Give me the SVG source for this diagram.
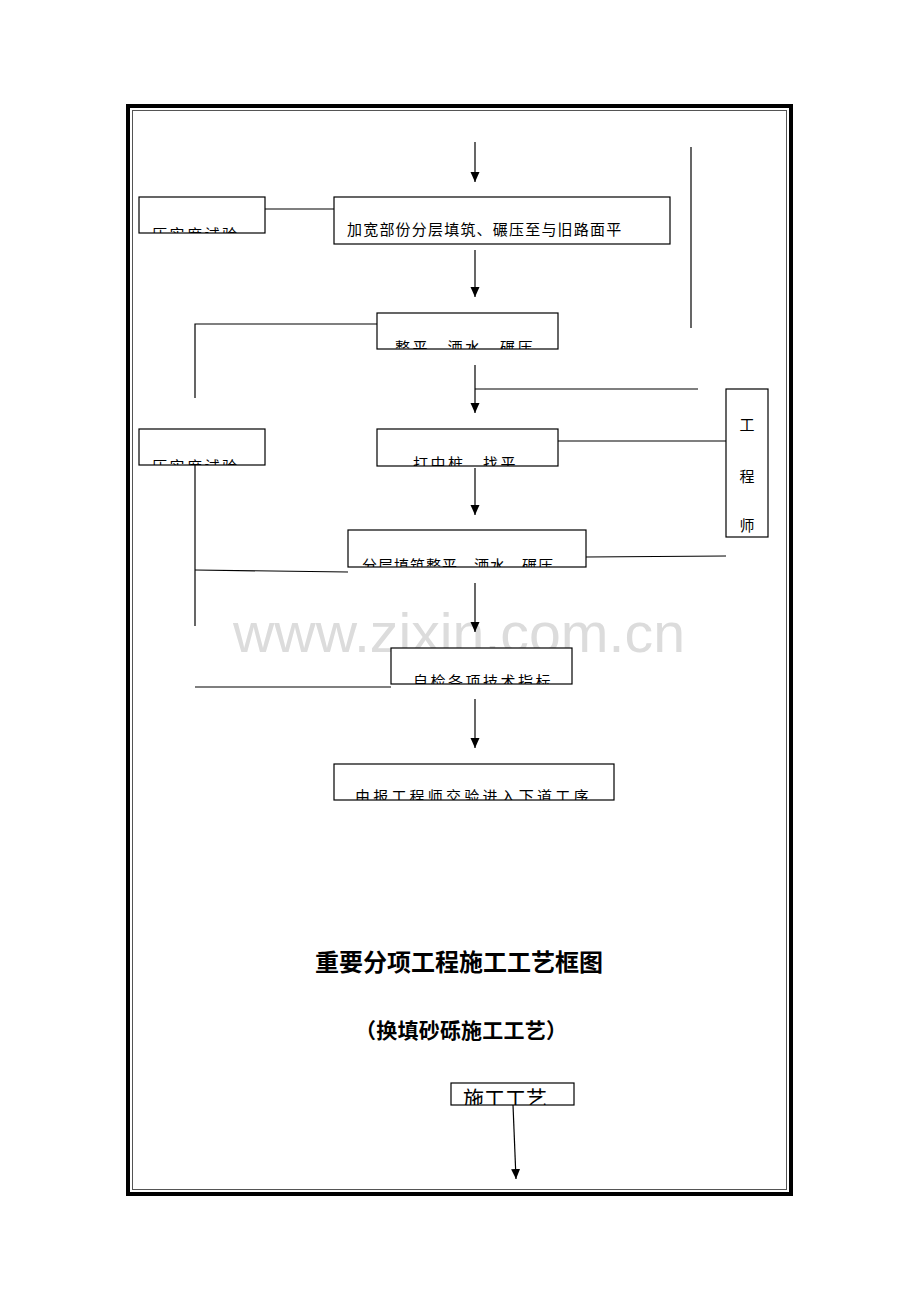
<svg xmlns="http://www.w3.org/2000/svg" width="920" height="1302" viewBox="0 0 920 1302">
<style>
.box{fill:#fff;stroke:#000;stroke-width:1.2}
.ln{fill:none;stroke:#000;stroke-width:1.2}
.t{font-family:"Noto Sans CJK SC","Noto Sans CJK TC",sans-serif;font-size:15px;fill:#000;letter-spacing:2.5px}
.title{font-family:"Noto Sans CJK SC",sans-serif;font-weight:bold;fill:#000;text-anchor:middle}
</style>
<defs>
<marker id="ah" markerWidth="10" markerHeight="11" refX="10" refY="4.5" orient="auto" markerUnits="userSpaceOnUse">
<path d="M0,0 L10,4.5 L0,9 Z" fill="#000"/>
</marker>
<clipPath id="c1"><rect x="139" y="197" width="126" height="36"/></clipPath>
<clipPath id="c2"><rect x="377" y="313" width="181" height="36"/></clipPath>
<clipPath id="c3"><rect x="139" y="429" width="126" height="36"/></clipPath>
<clipPath id="c4"><rect x="377" y="429" width="181" height="37"/></clipPath>
<clipPath id="c5"><rect x="348" y="530" width="238" height="37"/></clipPath>
<clipPath id="c6"><rect x="391" y="648" width="181" height="36"/></clipPath>
<clipPath id="c7"><rect x="334" y="764" width="280" height="36"/></clipPath>
<clipPath id="c8"><rect x="451" y="1083" width="123" height="22"/></clipPath>
</defs>

<g id="frame">
<rect x="128" y="106" width="663" height="1088" fill="none" stroke="#000" stroke-width="4"/>
<rect x="132.5" y="110.5" width="654" height="1079" fill="none" stroke="#555" stroke-width="1"/>
</g>

<g id="watermark">
<text x="459" y="652" font-family="Liberation Sans, Arial, sans-serif" font-size="56" fill="#dcdcdc" text-anchor="middle" textLength="452" lengthAdjust="spacingAndGlyphs">www.zixin.com.cn</text>
</g>

<g id="connectors">
<line class="ln" x1="475" y1="142" x2="475" y2="182" marker-end="url(#ah)"/>
<line class="ln" x1="265" y1="209" x2="334" y2="209"/>
<line class="ln" x1="475" y1="250" x2="475" y2="297" marker-end="url(#ah)"/>
<line class="ln" x1="691" y1="147" x2="691" y2="328"/>
<polyline class="ln" points="377,324 195,324 195,398"/>
<line class="ln" x1="475" y1="365" x2="475" y2="413" marker-end="url(#ah)"/>
<line class="ln" x1="475" y1="389" x2="698" y2="389"/>
<line class="ln" x1="558" y1="441" x2="726" y2="441"/>
<line class="ln" x1="475" y1="468" x2="475" y2="515" marker-end="url(#ah)"/>
<line class="ln" x1="195" y1="465" x2="195" y2="626"/>
<line class="ln" x1="195" y1="570" x2="348" y2="572"/>
<line class="ln" x1="586" y1="557" x2="726" y2="556"/>
<line class="ln" x1="475" y1="583" x2="475" y2="632" marker-end="url(#ah)"/>
<line class="ln" x1="195" y1="687" x2="391" y2="687"/>
<line class="ln" x1="475" y1="699" x2="475" y2="748" marker-end="url(#ah)"/>
<line class="ln" x1="513" y1="1105" x2="516" y2="1179" marker-end="url(#ah)"/>
</g>

<g id="n-yashi1">
<rect class="box" x="139" y="197" width="126" height="36"/>
<text class="t" x="152" y="240" clip-path="url(#c1)">压实度试验</text>
</g>

<g id="n-jiakuan">
<rect class="box" x="334" y="197" width="336" height="47"/>
<text class="t" x="347" y="235" style="letter-spacing:1.2px">加宽部份分层填筑、碾压至与旧路面平</text>
</g>

<g id="n-zhengping">
<rect class="box" x="377" y="313" width="181" height="36"/>
<text class="t" x="395" y="353" clip-path="url(#c2)">整平、洒水、碾压</text>
</g>

<g id="n-gongchengshi">
<rect class="box" x="726" y="389" width="42" height="148"/>
<text class="t" x="747" y="430" text-anchor="middle" style="letter-spacing:0">工</text>
<text class="t" x="747" y="482" text-anchor="middle" style="letter-spacing:0">程</text>
<text class="t" x="747" y="531" text-anchor="middle" style="letter-spacing:0">师</text>
</g>

<g id="n-yashi2">
<rect class="box" x="139" y="429" width="126" height="36"/>
<text class="t" x="152" y="472" clip-path="url(#c3)">压实度试验</text>
</g>

<g id="n-dazhongzhuang">
<rect class="box" x="377" y="429" width="181" height="37"/>
<text class="t" x="413" y="469" clip-path="url(#c4)">打中桩、找平</text>
</g>

<g id="n-fenceng">
<rect class="box" x="348" y="530" width="238" height="37"/>
<text class="t" x="362" y="571" clip-path="url(#c5)" style="letter-spacing:1px">分层填筑整平、洒水、碾压</text>
</g>

<g id="n-zijian">
<rect class="box" x="391" y="648" width="181" height="36"/>
<text class="t" x="413" y="687" clip-path="url(#c6)">自检各项技术指标</text>
</g>

<g id="n-baoyan">
<rect class="box" x="334" y="764" width="280" height="36"/>
<text class="t" x="355" y="802" clip-path="url(#c7)" style="letter-spacing:3.2px">由报工程师交验进入下道工序</text>
</g>

<g id="titles">
<text class="title" x="459" y="971" font-size="24">重要分项工程施工工艺框图</text>
<text class="title" x="461" y="1038" font-size="21" textLength="212">（换填砂砾施工工艺）</text>
</g>

<g id="n-shigong">
<rect class="box" x="451" y="1083" width="123" height="22"/>
<text x="463" y="1106" font-family="Noto Sans CJK SC, sans-serif" font-size="21" fill="#000" clip-path="url(#c8)">施工工艺</text>
</g>
</svg>
